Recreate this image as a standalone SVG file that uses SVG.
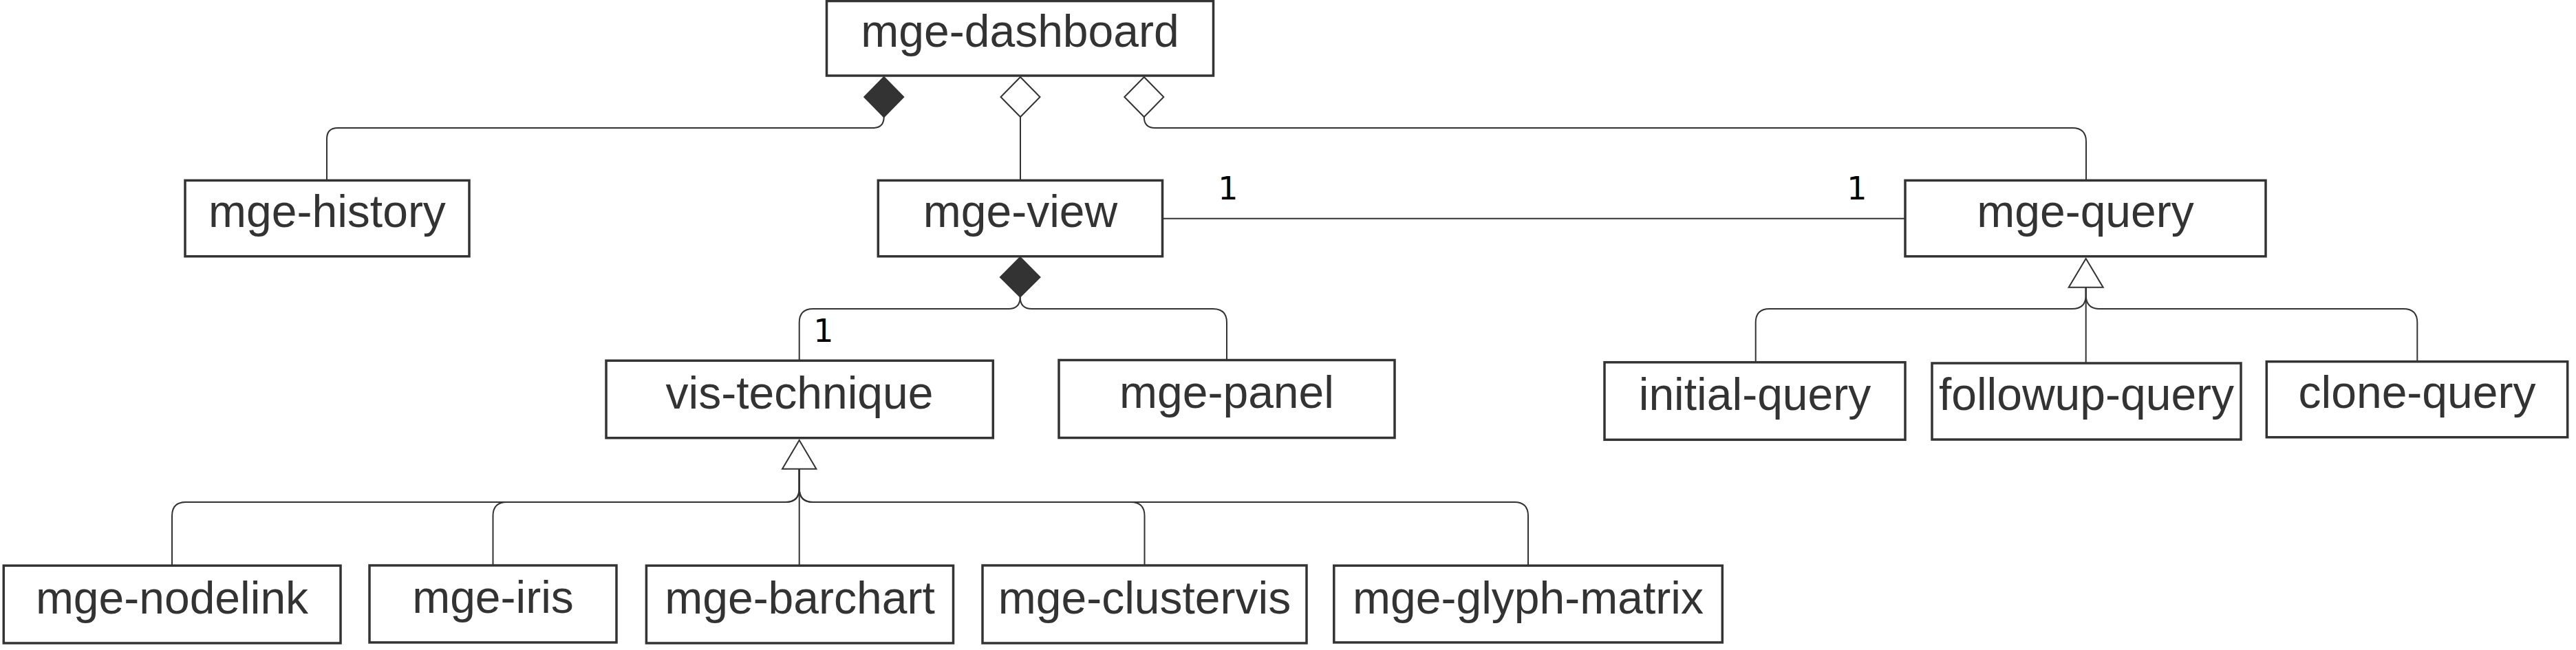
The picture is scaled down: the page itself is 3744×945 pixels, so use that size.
<svg xmlns="http://www.w3.org/2000/svg" width="3744" height="945" viewBox="0 0 3744 945">
<style>
.box{fill:#ffffff;stroke:#333333;stroke-width:3.5}
.t{font-family:"Liberation Sans",Arial,sans-serif;font-size:66px;fill:#333333;text-anchor:middle}
.lbl{font-family:"DejaVu Sans","Liberation Sans",sans-serif;font-size:46px;fill:#000000;text-anchor:middle}
.c{fill:none;stroke:#333333;stroke-width:2}
.fd{fill:#333333;stroke:#333333;stroke-width:2}
.od{fill:#ffffff;stroke:#333333;stroke-width:2}
</style>
<rect width="3744" height="945" fill="#ffffff"/>
<g id="connectors">
  <!-- dashboard -> history (composition) -->
  <path class="c" d="M1284.7,170 Q1284.7,186 1268.7,186 H491 Q475,186 475,202 V262"/>
  <polygon class="fd" points="1284.7,112 1313.2,141 1284.7,170 1256.2,141"/>
  <!-- dashboard -> view (aggregation) -->
  <path class="c" d="M1483,170 V262"/>
  <polygon class="od" points="1483,112 1511.5,141 1483,170 1454.5,141"/>
  <!-- dashboard -> query (aggregation) -->
  <path class="c" d="M1662.8,170 Q1662.8,186 1678.8,186 H3012 Q3032,186 3032,206 V262"/>
  <polygon class="od" points="1662.8,112 1691.3,141 1662.8,170 1634.3,141"/>
  <!-- view - query association -->
  <path class="c" d="M1689.5,317.7 H2769"/>
  <text class="lbl" x="1785" y="290">1</text>
  <text class="lbl" x="2699" y="290">1</text>
  <!-- view -> vis-technique / panel (composition) -->
  <path class="c" d="M1482.7,431.7 Q1482.7,449 1465.7,449 H1181.7 Q1161.7,449 1161.7,469 V524"/>
  <path class="c" d="M1482.7,431.7 Q1482.7,449 1499.7,449 H1763 Q1783,449 1783,469 V523.5"/>
  <polygon class="fd" points="1482.7,374 1511.5,403 1482.7,431.7 1453.9,403"/>
  <text class="lbl" x="1197" y="497">1</text>
  <!-- vis-technique generalization -->
  <path class="c" d="M1161.7,681.7 V822"/>
  <path class="c" d="M1161.7,681.7 V710 Q1161.7,730 1141.7,730 H270 Q250,730 250,750 V822"/>
  <path class="c" d="M1161.7,681.7 V710 Q1161.7,730 1141.7,730 H736.5 Q716.5,730 716.5,750 V822"/>
  <path class="c" d="M1161.7,681.7 V710 Q1161.7,730 1181.7,730 H1643.5 Q1663.5,730 1663.5,750 V822"/>
  <path class="c" d="M1161.7,681.7 V710 Q1161.7,730 1181.7,730 H2201 Q2221,730 2221,750 V822"/>
  <polygon class="od" points="1161.7,640 1186.4,681.7 1137,681.7"/>
  <!-- query generalization -->
  <path class="c" d="M3031.7,417.7 V528"/>
  <path class="c" d="M3031.7,417.7 V429 Q3031.7,449 3011.7,449 H2571.7 Q2551.7,449 2551.7,469 V526.7"/>
  <path class="c" d="M3031.7,417.7 V429 Q3031.7,449 3051.7,449 H3493.3 Q3513.3,449 3513.3,469 V525.7"/>
  <polygon class="od" points="3031.7,376 3056.7,417.7 3006.7,417.7"/>
</g>
<g id="mge-dashboard"><rect class="box" x="1201.5" y="1.5" width="562" height="108.5"/><text class="t" x="1482.5" y="68">mge-dashboard</text></g>
<g id="mge-history"><rect class="box" x="269" y="262.3" width="413" height="110.4"/><text class="t" x="475.5" y="330">mge-history</text></g>
<g id="mge-view"><rect class="box" x="1276.3" y="262.3" width="413.2" height="110.4"/><text class="t" x="1483" y="330">mge-view</text></g>
<g id="mge-query"><rect class="box" x="2769" y="262.3" width="524" height="110.4"/><text class="t" x="3031" y="330">mge-query</text></g>
<g id="vis-technique"><rect class="box" x="881" y="524.3" width="562.3" height="112.4"/><text class="t" x="1162" y="594">vis-technique</text></g>
<g id="mge-panel"><rect class="box" x="1539" y="523.5" width="488" height="113"/><text class="t" x="1783" y="593">mge-panel</text></g>
<g id="initial-query"><rect class="box" x="2332" y="526.7" width="437" height="112.6"/><text class="t" x="2550.5" y="596">initial-query</text></g>
<g id="followup-query"><rect class="box" x="2808" y="528" width="449" height="111"/><text class="t" x="3032.5" y="596">followup-query</text></g>
<g id="clone-query"><rect class="box" x="3294.3" y="525.7" width="437.4" height="110"/><text class="t" x="3513" y="593">clone-query</text></g>
<g id="mge-nodelink"><rect class="box" x="5.3" y="822.3" width="489.7" height="112.7"/><text class="t" x="250" y="892">mge-nodelink</text></g>
<g id="mge-iris"><rect class="box" x="537" y="822" width="359" height="112"/><text class="t" x="716.5" y="891">mge-iris</text></g>
<g id="mge-barchart"><rect class="box" x="939.4" y="822.3" width="446.1" height="112.7"/><text class="t" x="1162.5" y="892">mge-barchart</text></g>
<g id="mge-clustervis"><rect class="box" x="1428" y="822" width="471" height="113"/><text class="t" x="1663.5" y="892">mge-clustervis</text></g>
<g id="mge-glyph-matrix"><rect class="box" x="1938.8" y="822.3" width="564.5" height="111.7"/><text class="t" x="2221" y="892">mge-glyph-matrix</text></g>
</svg>
